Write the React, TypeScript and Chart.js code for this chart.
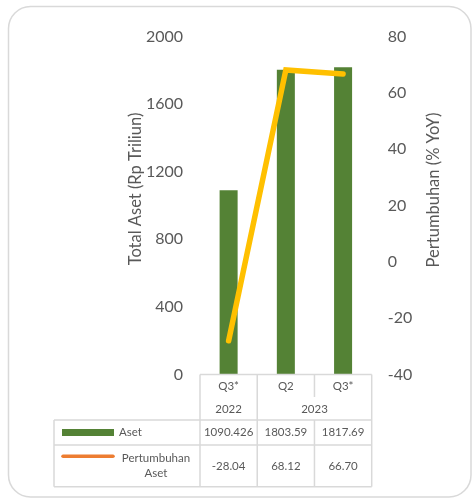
import React, { useEffect, useRef } from "react";
import { Chart, registerables } from "chart.js";

Chart.register(...registerables);

// ---- data ----
const categories = ["Q3*", "Q2", "Q3*"];
const yearLabels = ["2022", "2023"];
const yearSpans = [1, 2];
const asetValues = [1090.426, 1803.59, 1817.69];
const growthValues = [-28.04, 68.12, 66.7];
const asetText = ["1090.426", "1803.59", "1817.69"];
const growthText = ["-28.04", "68.12", "66.70"];
const seriesNames = ["Aset", "Pertumbuhan Aset"];
const leftAxisTitle = "Total Aset (Rp Triliun)";
const rightAxisTitle = "Pertumbuhan (% YoY)";

const FONT = "Lato, 'Open Sans', sans-serif";
const TEXT = "#595959";
const LINE = "#d9d9d9";
const GREEN = "#548235";
const GOLD = "#FFC000";
const ORANGE = "#ED7D31";

const W = 472;
const H = 499;

const framePlugin = {
  id: "frame",
  beforeDraw(chart: any) {
    const ctx = chart.ctx;
    ctx.save();
    ctx.fillStyle = "#ffffff";
    ctx.fillRect(0, 0, W, H);
    ctx.beginPath();
    ctx.roundRect(8.5, 6.5, 462.5, 490.5, 22);
    ctx.fillStyle = "#ffffff";
    ctx.fill();
    ctx.lineWidth = 1.5;
    ctx.strokeStyle = "#d9d9d9";
    ctx.stroke();
    ctx.restore();
  },
};

const titlesPlugin = {
  id: "axisTitles",
  afterDraw(chart: any) {
    const ctx = chart.ctx;
    ctx.save();
    ctx.fillStyle = TEXT;
    ctx.font = `16.5px ${FONT}`;
    ctx.textAlign = "center";
    ctx.textBaseline = "middle";
    ctx.translate(136, 189);
    ctx.rotate(-Math.PI / 2);
    ctx.fillText(leftAxisTitle, 0, 0);
    ctx.restore();
    ctx.save();
    ctx.fillStyle = TEXT;
    ctx.font = `16.5px ${FONT}`;
    ctx.textAlign = "center";
    ctx.textBaseline = "middle";
    ctx.translate(434, 190);
    ctx.rotate(-Math.PI / 2);
    ctx.fillText(rightAxisTitle, 0, 0);
    ctx.restore();
  },
};

const tablePlugin = {
  id: "dataTable",
  afterDraw(chart: any) {
    const ctx = chart.ctx;
    const xs = chart.scales.x;
    const area = chart.chartArea;
    const n = categories.length;
    const colW = (area.right - area.left) / n;
    const edges: number[] = [];
    for (let i = 0; i <= n; i++) edges.push(xs.getPixelForValue(0) - colW / 2 + i * colW);
    const centers = categories.map((_, i) => xs.getPixelForValue(i));

    const top = area.bottom;
    const catRowBottom = top + 22.5;
    const yearRowBottom = top + 45.5;
    const row1Bottom = yearRowBottom + 25;
    const row2Bottom = row1Bottom + 41.7;
    const tableLeft = 54;

    ctx.save();
    ctx.strokeStyle = LINE;
    ctx.lineWidth = 1.5;
    const line = (x1: number, y1: number, x2: number, y2: number) => {
      ctx.beginPath();
      ctx.moveTo(x1, y1);
      ctx.lineTo(x2, y2);
      ctx.stroke();
    };
    line(edges[0], top, edges[n], top);
    const yearEdges = new Set<number>([0]);
    let acc = 0;
    yearSpans.forEach((s) => {
      acc += s;
      yearEdges.add(acc);
    });
    for (let i = 0; i <= n; i++) {
      if (yearEdges.has(i)) {
        line(edges[i], top, edges[i], row2Bottom);
      } else {
        line(edges[i], top, edges[i], catRowBottom);
        line(edges[i], yearRowBottom, edges[i], row2Bottom);
      }
    }
    line(tableLeft, yearRowBottom, edges[n], yearRowBottom);
    line(tableLeft, row1Bottom, edges[n], row1Bottom);
    line(tableLeft, row2Bottom, edges[n], row2Bottom);
    line(tableLeft, yearRowBottom, tableLeft, row2Bottom);

    ctx.fillStyle = TEXT;
    ctx.font = `11.5px ${FONT}`;
    ctx.textAlign = "center";
    ctx.textBaseline = "middle";
    categories.forEach((c, i) => ctx.fillText(c, centers[i], top + 12));
    let start = 0;
    yearLabels.forEach((y, k) => {
      const s = yearSpans[k];
      const cx = (edges[start] + edges[start + s]) / 2;
      ctx.fillText(y, cx, top + 35);
      start += s;
    });
    const r1y = (yearRowBottom + row1Bottom) / 2;
    const r2y = (row1Bottom + row2Bottom) / 2;
    asetText.forEach((t, i) => ctx.fillText(t, centers[i], r1y));
    growthText.forEach((t, i) => ctx.fillText(t, centers[i], r2y));

    ctx.fillStyle = GREEN;
    ctx.fillRect(62, r1y - 3.5, 52, 7);
    ctx.strokeStyle = ORANGE;
    ctx.lineWidth = 3.5;
    ctx.lineCap = "round";
    line(63, r2y - 9.5, 113, r2y - 9.5);

    ctx.fillStyle = TEXT;
    ctx.textAlign = "left";
    ctx.fillText(seriesNames[0], 119, r1y);
    ctx.textAlign = "center";
    const words = seriesNames[1].split(" ");
    ctx.fillText(words[0], 156, r2y - 8);
    ctx.fillText(words.slice(1).join(" "), 156, r2y + 7);
    ctx.restore();
  },
};

export default function App() {
  const ref = useRef<HTMLCanvasElement>(null);
  useEffect(() => {
    if (!ref.current) return;
    const chart = new Chart(ref.current, {
      type: "bar",
      data: {
        labels: categories,
        datasets: [
          {
            type: "line",
            label: seriesNames[1],
            data: growthValues,
            yAxisID: "y1",
            borderColor: GOLD,
            backgroundColor: GOLD,
            borderWidth: 5.5,
            borderCapStyle: "round",
            borderJoinStyle: "miter",
            pointRadius: 0,
            tension: 0,
            order: 0,
          } as any,
          {
            type: "bar",
            label: seriesNames[0],
            data: asetValues,
            yAxisID: "y",
            backgroundColor: GREEN,
            categoryPercentage: 1,
            barPercentage: 18 / 57.2,
            order: 1,
          },
        ],
      },
      options: {
        responsive: false,
        animation: false,
        layout: { padding: { top: 36.5, bottom: 124.5, left: 0, right: 0 } },
        plugins: { legend: { display: false }, tooltip: { enabled: false } },
        scales: {
          x: { display: false, offset: true },
          y: {
            position: "left",
            min: 0,
            max: 2000,
            ticks: {
              stepSize: 400,
              color: TEXT,
              font: { family: FONT, size: 16 },
              padding: 17,
              callback: (v: any) => String(v),
            },
            grid: { display: false, drawTicks: false },
            border: { display: false },
            afterFit: (s: any) => {
              s.width = 200;
            },
          },
          y1: {
            position: "right",
            min: -40,
            max: 80,
            ticks: {
              stepSize: 20,
              color: TEXT,
              font: { family: FONT, size: 16 },
              padding: 16,
              callback: (v: any) => String(v),
            },
            grid: { display: false, drawTicks: false },
            border: { display: false },
            afterFit: (s: any) => {
              s.width = 100.3;
            },
          },
        },
      },
      plugins: [framePlugin, titlesPlugin, tablePlugin],
    });
    return () => chart.destroy();
  }, []);
  return (
    <div style={{ position: "fixed", left: 0, top: 0, width: W, height: H, background: "#fff" }}>
      <canvas ref={ref} width={W} height={H} style={{ width: W, height: H, display: "block" }} />
    </div>
  );
}
